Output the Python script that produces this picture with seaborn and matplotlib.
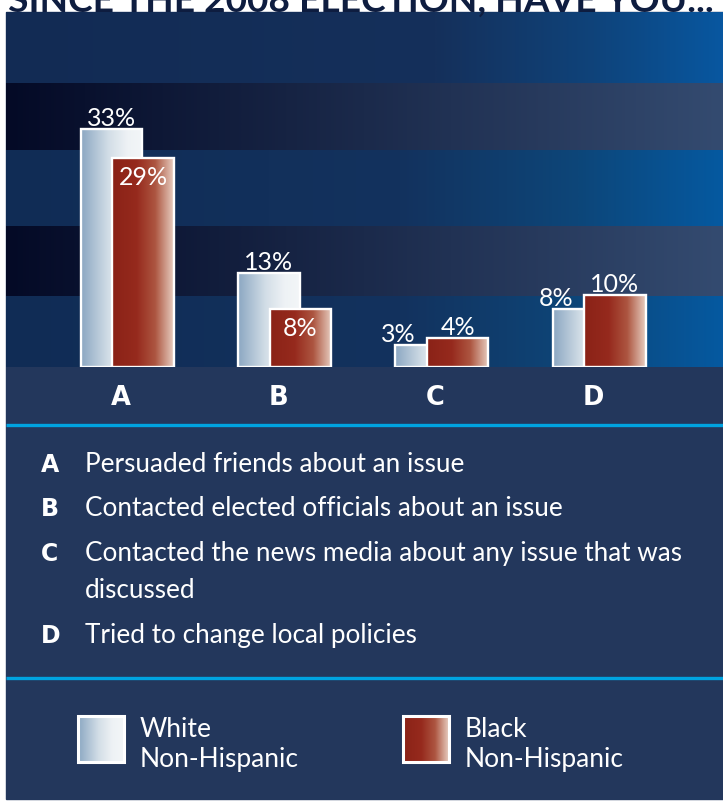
import numpy as np
import pandas as pd
import matplotlib
matplotlib.use("Agg")
import matplotlib.pyplot as plt
import seaborn as sns
from matplotlib.colors import LinearSegmentedColormap
from matplotlib.patches import Rectangle

# ---------------- data ----------------
categories = ["A", "B", "C", "D"]
white_values = [33, 13, 3, 8]
black_values = [29, 8, 4, 10]
series_names = ["White\nNon-Hispanic", "Black\nNon-Hispanic"]
descriptions = [
    "Persuaded friends about an issue",
    "Contacted elected officials about an issue",
    "Contacted the news media about any issue that was\ndiscussed",
    "Tried to change local policies",
]
title = "SINCE THE 2008 ELECTION, HAVE YOU..."

# ---------------- style ----------------
sns.set_theme(style="white")
plt.rcParams["font.family"] = ["Lato", "DejaVu Sans"]
LETTER_FONT = ["DejaVu Sans"]

W, H = 723, 804
PANEL = "#23375c"
CYAN = "#00a3e0"
WHITE_STOPS = [(0, "#8ba7c2"), (0.45, "#d3dee7"), (0.75, "#eef2f5"), (1, "#f3f6f8")]
RED_STOPS = [(0, "#8a2217"), (0.4, "#962a1d"), (0.7, "#ad5641"), (1, "#e8cfc2")]

fig = plt.figure(figsize=(W / 100, H / 100), dpi=100)
fig.patch.set_facecolor("white")

bg = fig.add_axes([0, 0, 1, 1])
bg.axis("off")


def hgrad(ax, x0, x1, y0, y1, stops, z=0, clip=None):
    cmap = LinearSegmentedColormap.from_list("g", stops)
    grad = np.linspace(0, 1, 512)[None, :]
    im = ax.imshow(grad, cmap=cmap, aspect="auto", extent=(x0, x1, y1, y0),
                   zorder=z, interpolation="bilinear")
    if clip is not None:
        im.set_clip_path(clip)
    return im


def lines(ax, x, y, text, step, **kw):
    for j, line in enumerate(text.split("\n")):
        ax.text(x, y + j * step, line, va="baseline", ha="left", **kw)


# panel
bg.add_patch(Rectangle((6, 13), W - 6, 787, color=PANEL, zorder=0))
# top area
hgrad(bg, 6, W, 13, 84, [(0, "#122b54"), (0.6, "#15305b"), (0.82, "#0f437a"), (1, "#0857a0")], z=1)
# stripes
dark_stops = [(0, "#040a26"), (0.5, "#1b2a4b"), (1, "#344b70")]
navy_stops = [(0, "#102c55"), (0.55, "#13325e"), (0.8, "#0d4679"), (1, "#0559a0")]
for (y0, y1, st) in [(84, 151, dark_stops), (151, 227, navy_stops),
                     (227, 297, dark_stops), (297, 368, navy_stops)]:
    hgrad(bg, 6, W, y0, y1, st, z=1)

# cyan rules
for y in (425.5, 678.5):
    bg.plot([6, W], [y, y], color=CYAN, lw=2.4, solid_capstyle="butt", zorder=2)

# title (clipped at top)
bg.text(8, 12, title, color="#0e1d40", fontsize=26.7, fontweight="bold",
        va="baseline", ha="left", zorder=3)

# descriptions
base_y = [472, 516, 561, 643]
for cat, desc, y in zip(categories, descriptions, base_y):
    bg.text(41, y, cat, color="white", fontsize=17, fontweight="bold",
            family=LETTER_FONT, va="baseline", ha="left", zorder=3)
    lines(bg, 85, y, desc, 37, color="white", fontsize=18.8, zorder=3)

# legend boxes
for i, (name, stops) in enumerate(zip(series_names, [WHITE_STOPS, RED_STOPS])):
    bx = [78, 403][i]
    rect = Rectangle((bx, 717), 46, 46, facecolor="none", edgecolor="white", lw=2.2, zorder=4)
    bg.add_patch(rect)
    hgrad(bg, bx, bx + 46, 717, 763, stops, z=3)
    lines(bg, bx + 62, 737, name, 30, color="white", fontsize=19, zorder=3)

bg.set_xlim(0, W)
bg.set_ylim(H, 0)

# ---------------- bar axes ----------------
ax = fig.add_axes([6 / W, (H - 368) / H, (W - 6) / W, (368 - 84) / H])
ax.patch.set_alpha(0)
idx = np.arange(len(categories))
df_w = pd.DataFrame({"pos": idx - 0.06, "val": white_values})
df_b = pd.DataFrame({"pos": idx + 0.14, "val": black_values})
sns.barplot(data=df_w, x="pos", y="val", native_scale=True, width=0.39,
            errorbar=None, ax=ax, color="white")
sns.barplot(data=df_b, x="pos", y="val", native_scale=True, width=0.39,
            errorbar=None, ax=ax, color="red")

patches = list(ax.patches)
for k, p in enumerate(patches):
    stops = WHITE_STOPS if k < 4 else RED_STOPS
    zb = 2 if k < 4 else 4
    x0, w, h = p.get_x(), p.get_width(), p.get_height()
    p.set_facecolor("none")
    p.set_edgecolor("white")
    p.set_linewidth(1.7)
    p.set_zorder(zb + 1)
    hgrad(ax, x0, x0 + w, 0, h, stops, z=zb, clip=p)

ax.set_xlim(-0.731, 3.827)
ax.set_ylim(0, 39.4)
ax.set_xticks(idx)
ax.set_xticklabels(categories, fontsize=18.5, fontweight="bold", color="white",
                   family=LETTER_FONT)
ax.tick_params(axis="x", length=0, pad=12)
ax.set_yticks([])
ax.set_xlabel("")
ax.set_ylabel("")
for s in ax.spines.values():
    s.set_visible(False)

# value labels
bw = 0.39
VF = 18
for i in idx:
    wv, bv = white_values[i], black_values[i]
    wx, bx_ = i - 0.06, i + 0.14
    if wv > bv:
        ax.annotate(f"{wv}%", xy=(wx, wv), xytext=(0, 3), textcoords="offset points",
                    ha="center", va="baseline", color="white", fontsize=VF, zorder=6)
        ax.annotate(f"{bv}%", xy=(bx_, bv), xytext=(0, -5), textcoords="offset points",
                    ha="center", va="top", color="white", fontsize=VF, zorder=6)
    else:
        ax.annotate(f"{wv}%", xy=(wx - bw / 2 + 0.02, wv), xytext=(0, 3), textcoords="offset points",
                    ha="center", va="baseline", color="white", fontsize=VF, zorder=6)
        ax.annotate(f"{bv}%", xy=(bx_, bv), xytext=(0, 3), textcoords="offset points",
                    ha="center", va="baseline", color="white", fontsize=VF, zorder=6)

fig.savefig("out.png", dpi=100, facecolor="white")
